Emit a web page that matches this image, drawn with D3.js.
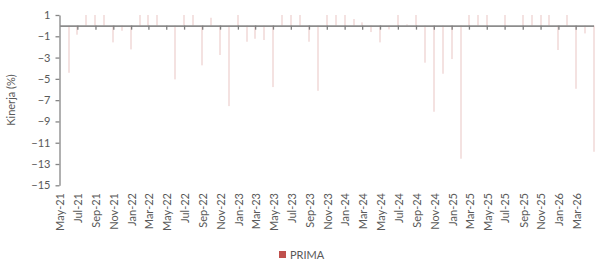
<!DOCTYPE html>
<html>
<head>
<meta charset="utf-8">
<script src="https://cdn.jsdelivr.net/npm/d3@7"></script>
<style>
  body { margin: 0; background: #fff; }
  text { font-family: Lato, "Open Sans", sans-serif; }
</style>
</head>
<body>
<div id="chart"></div>
<script>
// monthly performance of PRIMA, in %
const months = [
  "May-21","Jun-21","Jul-21","Aug-21","Sep-21","Oct-21","Nov-21","Dec-21",
  "Jan-22","Feb-22","Mar-22","Apr-22","May-22","Jun-22","Jul-22","Aug-22","Sep-22","Oct-22","Nov-22","Dec-22",
  "Jan-23","Feb-23","Mar-23","Apr-23","May-23","Jun-23","Jul-23","Aug-23","Sep-23","Oct-23","Nov-23","Dec-23",
  "Jan-24","Feb-24","Mar-24","Apr-24","May-24","Jun-24","Jul-24","Aug-24","Sep-24","Oct-24","Nov-24","Dec-24",
  "Jan-25","Feb-25","Mar-25","Apr-25","May-25","Jun-25","Jul-25","Aug-25","Sep-25","Oct-25","Nov-25","Dec-25",
  "Jan-26","Feb-26","Mar-26","Apr-26","May-26"
];
const prima = [
  0, -4.43, -0.85, 1, 1, 1, -1.57, -0.48,
  -2.23, 1, 1, 1, 0, -5.05, 1, 1, -3.73, 0.74, -2.76, -7.56,
  1, -1.51, -1.23, -1.35, -5.77, 1, 1, 1, -1.51, -6.12, 1, 1,
  1, 0.62, 0.31, -0.6, -1.57, -0.35, 1, 0.12, 1, -3.48, -8.09, -4.52,
  -3.14, -12.5, 1, 1, 1, 0, 1, 0, 1, 1, 1, 1,
  -2.29, 1, -5.93, -0.73, -11.85
];
const yTicks = [1, -1, -3, -5, -7, -9, -11, -13, -15];
const seriesName = "PRIMA";

const width = 601, height = 264;
const parse = d3.timeParse("%b-%y");
const fmt = d3.timeFormat("%b-%y");
const data = months.map((m, i) => ({ date: parse(m), value: prima[i] }));

const svg = d3.select("#chart").append("svg")
  .attr("width", width)
  .attr("height", height);

const x = d3.scaleTime()
  .domain(d3.extent(data, d => d.date))
  .range([59.5, 593.5]);

const y = d3.scaleLinear()
  .domain([1, -15])
  .range([15, 185.3]);

// bars
svg.append("g")
  .selectAll("rect")
  .data(data.filter(d => d.value !== 0))
  .join("rect")
  .attr("x", d => Math.round(x(d.date)) - 0.5)
  .attr("width", 1)
  .attr("y", d => Math.min(y(d.value), y(0)))
  .attr("height", d => Math.abs(y(d.value) - y(0)))
  .attr("fill", "#c0504d")
  .attr("fill-opacity", 0.33);

// y axis
const yAxis = svg.append("g")
  .attr("transform", "translate(59.5,0)")
  .call(d3.axisLeft(y).tickValues(yTicks).tickSize(4).tickSizeOuter(0));
yAxis.select(".domain").attr("stroke", "#868686").attr("stroke-width", 1.3);
yAxis.selectAll(".tick line").attr("stroke", "#868686").attr("stroke-width", 1.3);
yAxis.selectAll(".tick text")
  .attr("x", -9)
  .attr("fill", "#595959")
  .style("font-size", "11px");

// x axis at zero, labels at the bottom
const xTicks = data.filter((d, i) => i % 2 === 0 && i < data.length - 1).map(d => d.date);
const xAxis = svg.append("g")
  .attr("transform", `translate(0,${y(0)})`)
  .call(d3.axisBottom(x).tickValues(xTicks.slice(1)).tickSize(4).tickSizeOuter(0).tickFormat(""));
xAxis.select(".domain").attr("stroke", "#8c8c8c").attr("stroke-width", 1.8);
xAxis.selectAll(".tick line").attr("stroke", "#7f7f7f").attr("stroke-width", 1.3);

svg.append("g")
  .selectAll("text")
  .data(xTicks)
  .join("text")
  .attr("transform", d => `translate(${x(d) + 1},193) rotate(-90)`)
  .attr("text-anchor", "end")
  .attr("dy", "0.35em")
  .attr("fill", "#595959")
  .style("font-size", "11px")
  .text(d => fmt(d));

// y title
svg.append("text")
  .attr("transform", "translate(15,100) rotate(-90)")
  .attr("text-anchor", "middle")
  .attr("fill", "#595959")
  .style("font-size", "11px")
  .text("Kinerja (%)");

// legend
const legend = svg.append("g").attr("transform", "translate(279,251)");
legend.append("rect")
  .attr("width", 7)
  .attr("height", 7)
  .attr("fill", "#c0504d");
legend.append("text")
  .attr("x", 11)
  .attr("y", 7.5)
  .attr("fill", "#595959")
  .style("font-size", "11px")
  .text(seriesName);
</script>
</body>
</html>
